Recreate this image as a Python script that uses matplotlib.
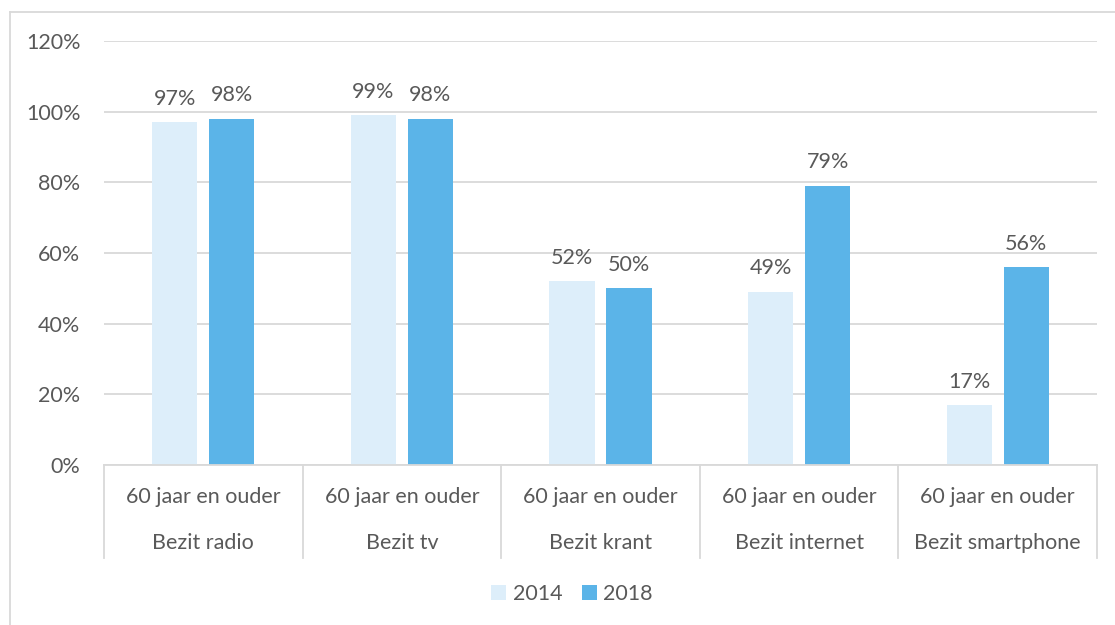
import matplotlib
matplotlib.use("Agg")
import matplotlib.pyplot as plt
from matplotlib.lines import Line2D
from matplotlib.patches import Patch
import numpy as np

plt.rcParams["font.family"] = ["Lato", "DejaVu Sans"]

age_label = "60 jaar en ouder"
categories = ["Bezit radio", "Bezit tv", "Bezit krant", "Bezit internet", "Bezit smartphone"]
years = ["2014", "2018"]
values_2014 = [97, 99, 52, 49, 17]
values_2018 = [98, 98, 50, 79, 56]
yticks = [0, 20, 40, 60, 80, 100, 120]

TEXT = "#595959"
GRID = "#D9D9D9"
C2014 = "#DDEEFA"
C2018 = "#5BB4E8"
FS = 15.5

W, H = 1115, 625
fig = plt.figure(figsize=(W / 100, H / 100), dpi=100)
ax = fig.add_axes([104 / W, 1 - 465 / H, (1097 - 104) / W, (465 - 41) / H])

x = np.arange(len(categories))
bw = 0.227
off = 0.1435
ax.bar(x - off, values_2014, bw, color=C2014, zorder=2)
ax.bar(x + off, values_2018, bw, color=C2018, zorder=2)

for xi, v in zip(x, values_2014):
    ax.text(xi - off, v + 3.8, f"{v}%", ha="center", va="bottom", fontsize=FS, color=TEXT)
for xi, v in zip(x, values_2018):
    ax.text(xi + off, v + 3.8, f"{v}%", ha="center", va="bottom", fontsize=FS, color=TEXT)

ax.set_xlim(-0.5, len(categories) - 0.5)
ax.set_ylim(0, 120)
ax.set_yticks(yticks)
ax.set_yticklabels([f"{t}%" for t in yticks], fontsize=FS, color=TEXT)
ax.tick_params(axis="y", length=0, pad=17)
ax.set_xticks([])
ax.grid(axis="y", color=GRID, linewidth=1.3, zorder=0)
for s in ["top", "right", "left"]:
    ax.spines[s].set_visible(False)
ax.spines["bottom"].set_color(GRID)
ax.spines["bottom"].set_linewidth(1.3)

# category axis: two-level labels with separators
trans = ax.get_xaxis_transform()
y_sep_bottom = -(558 - 465) / (465 - 41)
for b in np.arange(len(categories) + 1) - 0.5:
    ax.add_line(Line2D([b, b], [0, y_sep_bottom], transform=trans, color=GRID,
                       linewidth=1.3, clip_on=False))
for xi, cat in zip(x, categories):
    ax.text(xi, -(497 - 465) / (465 - 41), age_label, transform=trans, ha="center",
            va="center", fontsize=FS, color=TEXT)
    ax.text(xi, -(543 - 465) / (465 - 41), cat, transform=trans, ha="center",
            va="center", fontsize=FS, color=TEXT)

# legend
handles = [Patch(facecolor=C2014, edgecolor="none"), Patch(facecolor=C2018, edgecolor="none")]
fig.legend(handles, years, loc="center", bbox_to_anchor=(572 / W, 1 - 594 / H), ncol=2,
           frameon=False, fontsize=FS, labelcolor=TEXT, handlelength=0.7, handleheight=0.7,
           handletextpad=0.3, columnspacing=0.9)

# outer chart border
fig.add_artist(Line2D([10 / W, 10 / W], [0, 1 - 12 / H], transform=fig.transFigure,
                      color=GRID, linewidth=1.3))
fig.add_artist(Line2D([10 / W, 1], [1 - 12 / H, 1 - 12 / H], transform=fig.transFigure,
                      color=GRID, linewidth=1.3))

fig.savefig("out.png", dpi=100)
